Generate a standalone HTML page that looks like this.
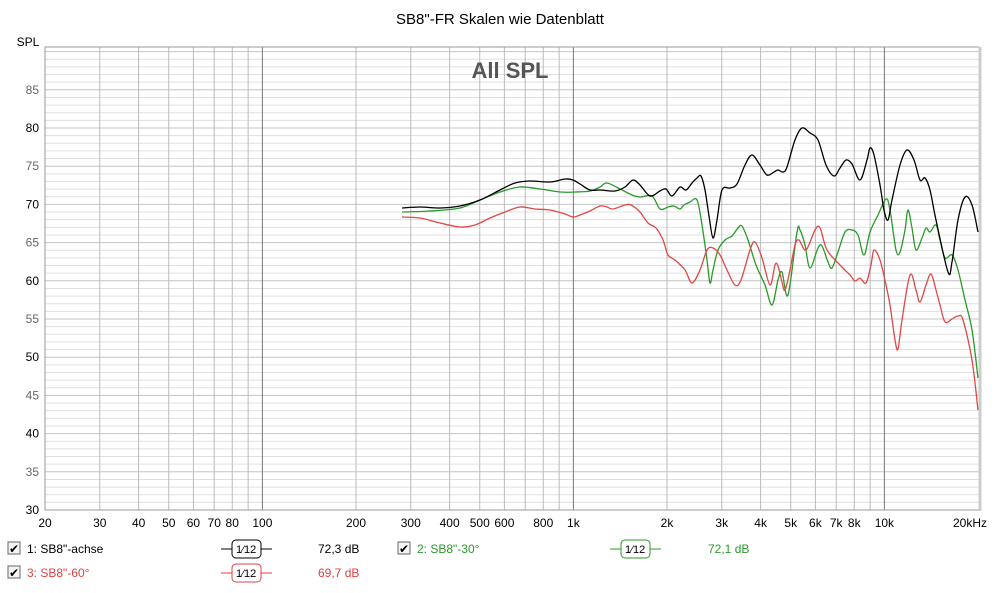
<!DOCTYPE html>
<html><head><meta charset="utf-8"><style>
body{margin:0;background:#fff;width:1000px;height:588px;overflow:hidden;font-family:"Liberation Sans",sans-serif}
svg text{font-family:"Liberation Sans",sans-serif}
</style></head><body>
<svg id="s" width="1000" height="588" xmlns="http://www.w3.org/2000/svg">
<rect x="0" y="0" width="1000" height="588" fill="#fff"/>
<text x="500" y="24" font-size="15" text-anchor="middle" fill="#000">SB8"-FR Skalen wie Datenblatt</text>
<text x="28" y="46" font-size="12" text-anchor="middle" fill="#000">SPL</text>
<g id="grid"></g>
<rect x="45" y="47" width="934" height="463" fill="none" stroke="#999" stroke-width="1"/>
<line x1="980" y1="47" x2="980" y2="511" stroke="#ccc" stroke-width="3"/>
<text x="510" y="78" font-size="22" font-weight="bold" text-anchor="middle" fill="#555">All SPL</text>
<g id="curves" fill="none" stroke-width="1.3"></g>
<g id="lab" font-size="12"></g>
<g font-size="12">
<rect x="8" y="542" width="12" height="12" fill="#f4f4f4" stroke="#666"/><text x="9" y="553" font-size="12">✔</text>
<text x="27" y="553">1: SB8"-achse</text>
<line x1="221" y1="549" x2="272" y2="549" stroke="#000"/><rect x="232" y="540" width="29" height="18" rx="4" fill="#fff" stroke="#000"/>
<text x="236" y="553" font-size="11">1⁄12</text>
<text x="318" y="553">72,3 dB</text>
<rect x="398" y="542" width="12" height="12" fill="#f4f4f4" stroke="#666"/><text x="399" y="553">✔</text>
<text x="417" y="553" fill="#2a9a2a">2: SB8"-30°</text>
<line x1="610" y1="549" x2="661" y2="549" stroke="#2a9a2a"/><rect x="621" y="540" width="29" height="18" rx="4" fill="#fff" stroke="#2a9a2a"/>
<text x="625" y="553" font-size="11" fill="#000">1⁄12</text>
<text x="708" y="553" fill="#2a9a2a">72,1 dB</text>
<rect x="8" y="566" width="12" height="12" fill="#f4f4f4" stroke="#666"/><text x="9" y="577">✔</text>
<text x="27" y="577" fill="#e04040">3: SB8"-60°</text>
<line x1="221" y1="573" x2="272" y2="573" stroke="#e04040"/><rect x="232" y="564" width="29" height="18" rx="4" fill="#fff" stroke="#e04040"/>
<text x="236" y="577" font-size="11" fill="#000">1⁄12</text>
<text x="318" y="577" fill="#e04040">69,7 dB</text>
</g>
</svg>
<script>
var NS="http://www.w3.org/2000/svg";
function el(t,a,p){var e=document.createElementNS(NS,t);for(var k in a)e.setAttribute(k,a[k]);p.appendChild(e);return e;}
var g=document.getElementById("grid"),lab=document.getElementById("lab");
function X(f){return 45+311*Math.log10(f/20);}
function Y(d){return 510-7.64*(d-30);}
for(var d=31;d<=90;d++){var y=Y(d);el("line",{x1:45,x2:979,y1:y,y2:y,stroke:d%5==0?"#c4c4c4":"#e0e0e0"},g);}
var fs=[];[10,100,1000,10000].forEach(function(m){for(var i=1;i<10;i++){var f=i*m;if(f>20&&f<20000)fs.push(f);}});
fs.forEach(function(f){var x=X(f);var major=(f==100||f==1000||f==10000);el("line",{x1:x,x2:x,y1:47,y2:510,stroke:major?"#777":"#bbb"},g);});
for(var d=30;d<=85;d+=5){var t=el("text",{x:39,y:Y(d)+4,"text-anchor":"end",fill:d%10==0?"#000":"#666"},lab);t.textContent=d;}
var xl=[[20,"20"],[30,"30"],[40,"40"],[50,"50"],[60,"60"],[70,"70"],[80,"80"],[100,"100"],[200,"200"],[300,"300"],[400,"400"],[500,"500"],[600,"600"],[800,"800"],[1000,"1k"],[2000,"2k"],[3000,"3k"],[4000,"4k"],[5000,"5k"],[6000,"6k"],[7000,"7k"],[8000,"8k"],[10000,"10k"],[20000,"20kHz"]];
xl.forEach(function(a){var t=el("text",{x:X(a[0])-(a[0]==20000?8:0),y:527,"text-anchor":"middle",fill:"#000"},lab);t.textContent=a[1];});
var C=document.getElementById("curves");
function P(pts,c){
 var d="M"+pts[0][0]+","+pts[0][1];
 for(var i=0;i<pts.length-1;i++){var p0=pts[i-1]||pts[i],p1=pts[i],p2=pts[i+1],p3=pts[i+2]||p2;
 d+=" C"+(p1[0]+(p2[0]-p0[0])/6)+","+(p1[1]+(p2[1]-p0[1])/6)+" "+(p2[0]-(p3[0]-p1[0])/6)+","+(p2[1]-(p3[1]-p1[1])/6)+" "+p2[0]+","+p2[1];}
 el("path",{d:d,stroke:c},C);}
P([[402,212],[430,211],[460,208],[480,200],[500,192],[520,187],[540,189],[560,192],[575,192],[590,191],[600,187],[607,183],[620,189],[632,195],[640,197],[652,196],[660,209],[668,207],[674,206],[680,209],[684,205],[690,202],[697,200],[702,225],[707,260],[710,283],[713,270],[718,250],[725,240],[732,236],[738,228],[742,226],[748,240],[756,265],[765,285],[772,305],[778,280],[782,272],[788,295],[797,232],[800,230],[805,245],[810,268],[818,248],[822,246],[828,262],[832,268],[838,252],[845,232],[852,230],[858,235],[864,255],[870,232],[878,215],[886,199],[890,210],[896,250],[900,252],[905,230],[908,210],[912,228],[916,250],[922,238],[926,228],[930,232],[936,225],[940,240],[945,258],[952,255],[958,270],[965,300],[972,330],[978,378]],"#2a9a2a");
P([[402,217],[420,218],[440,223],[460,227],[475,225],[490,218],[505,212],[520,207],[535,209],[550,210],[565,214],[573,217],[580,215],[590,211],[600,206],[607,207],[613,209],[625,205],[631,205],[640,212],[648,223],[656,228],[663,240],[668,255],[675,260],[685,270],[692,283],[700,270],[707,250],[713,248],[720,255],[727,270],[735,285],[741,280],[750,250],[755,242],[762,258],[770,285],[775,265],[778,266],[782,282],[785,290],[790,270],[795,245],[799,240],[806,250],[815,230],[820,228],[827,250],[840,265],[850,275],[855,281],[860,278],[866,283],[871,265],[874,250],[880,260],[886,285],[890,305],[895,340],[898,349],[902,320],[910,275],[916,290],[920,302],[926,285],[931,274],[936,290],[940,305],[945,322],[952,319],[958,316],[963,320],[972,360],[978,410]],"#e04848");
P([[402,208],[420,207],[440,208],[460,206],[480,200],[500,190],[515,183],[530,181],[550,182],[565,179],[573,180],[580,184],[590,190],[600,190],[615,191],[625,187],[633,180],[640,185],[650,196],[660,191],[666,189],[672,196],[680,187],[686,190],[692,183],[697,178],[701,176],[705,190],[709,216],[713,238],[717,220],[722,190],[730,188],[737,184],[745,165],[752,155],[760,165],[767,175],[774,172],[778,170],[783,172],[787,167],[795,140],[802,128],[810,133],[818,140],[826,165],[834,176],[840,168],[846,160],[852,164],[860,180],[867,160],[870,148],[874,155],[880,185],[884,210],[888,220],[892,200],[900,165],[907,150],[914,160],[920,180],[925,178],[930,190],[936,220],[948,272],[952,262],[958,220],[965,197],[972,205],[978,232]],"#000");
</script>
</body></html>
